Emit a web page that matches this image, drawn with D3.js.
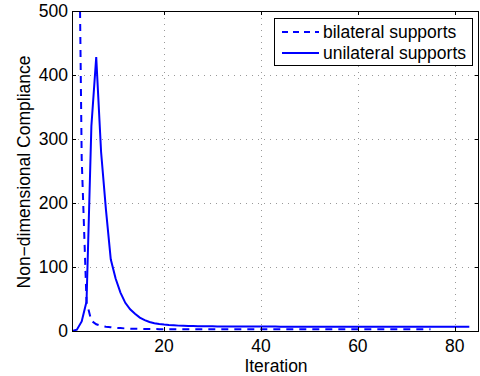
<!DOCTYPE html>
<html>
<head>
<meta charset="utf-8">
<script src="https://cdn.jsdelivr.net/npm/d3@7"></script>
<style>
  html, body { margin: 0; padding: 0; background: #fff; }
  svg { display: block; font-family: "Liberation Sans", Arial, Helvetica, sans-serif; }
</style>
</head>
<body>
<div id="chart"></div>
<script>
// Compliance per iteration
const unilateral = [
  0, 2, 15, 46, 320, 428, 280, 190, 112, 82,
  60, 44, 34, 27, 21, 17, 14, 12.2, 11, 10,
  9.3, 8.8, 8.4, 8.1, 7.9, 7.7, 7.6, 7.5, 7.4, 7.3,
  7.2, 7.2, 7.1, 7.1, 7.0, 7.0, 7.0, 6.9, 6.9, 6.9,
  6.9, 6.9, 6.9, 6.8, 6.8, 6.8, 6.8, 6.8, 6.8, 6.8,
  6.8, 6.8, 6.8, 6.8, 6.8, 6.8, 6.8, 6.8, 6.8, 6.8,
  6.8, 6.8, 6.8, 6.8, 6.8, 6.8, 6.8, 6.8, 6.8, 6.8,
  6.8, 6.8, 6.8, 6.8, 6.8, 6.8, 6.8, 6.8, 6.8, 6.8,
  6.8, 6.8, 6.8
];
const bilateral = [
  1800, 950, 270, 45, 16, 10.5, 8, 6.8, 6, 5,
  4.5, 4, 3.7, 3.5, 3.3, 3.2, 3.1, 3.0, 2.9, 2.9,
  2.8, 2.8, 2.8, 2.8, 2.8, 2.8, 2.8, 2.8, 2.8, 2.8,
  2.7, 2.7, 2.7, 2.7, 2.7, 2.7, 2.7, 2.7, 2.7, 2.7,
  2.6, 2.6, 2.6, 2.6, 2.6, 2.6, 2.6, 2.6, 2.6, 2.6,
  2.6, 2.6, 2.6, 2.6, 2.6, 2.6, 2.6, 2.6, 2.6, 2.6,
  2.6, 2.6, 2.6, 2.6, 2.6, 2.6, 2.6, 2.6, 2.6, 2.6,
  2.6, 2.6, 2.6, 2.6, 2.6
];
const series_names = ["bilateral supports", "unilateral supports"];
const x_ticks = [20, 40, 60, 80];
const y_ticks = [0, 100, 200, 300, 400, 500];

const w = 480;
const h = 376;
const m_left = 72, m_right = 479, m_top = 11, m_bottom = 331;
const font_size = 17.5;

const svg = d3.select("#chart")
  .append("svg")
  .attr("width", w)
  .attr("height", h)
  .attr("viewBox", [0, 0, w, h]);

const x_scale = d3.scaleLinear().domain([1, 85]).range([m_left, m_right]);
const y_scale = d3.scaleLinear().domain([0, 500]).range([m_bottom, m_top]);

// clip to the axes box
svg.append("clipPath")
  .attr("id", "plot-clip")
  .append("rect")
  .attr("x", m_left)
  .attr("y", m_top)
  .attr("width", m_right - m_left)
  .attr("height", m_bottom - m_top);

// dotted grid
const grid = svg.append("g")
  .attr("stroke", "#999")
  .attr("stroke-width", 1)
  .attr("stroke-dasharray", "1,5");
grid.selectAll("line.gx")
  .data(x_ticks)
  .join("line")
  .attr("class", "gx")
  .attr("x1", (d) => Math.round(x_scale(d)) + 0.5)
  .attr("x2", (d) => Math.round(x_scale(d)) + 0.5)
  .attr("y1", m_bottom)
  .attr("y2", m_top);
grid.selectAll("line.gy")
  .data(y_ticks.filter((d) => d > 0 && d < 500))
  .join("line")
  .attr("class", "gy")
  .attr("x1", m_left)
  .attr("x2", m_right)
  .attr("y1", (d) => Math.round(y_scale(d)) + 0.5)
  .attr("y2", (d) => Math.round(y_scale(d)) + 0.5);

// the two curves
const line = d3.line()
  .x((d, i) => x_scale(i + 1))
  .y((d) => y_scale(d));

const plot = svg.append("g").attr("clip-path", "url(#plot-clip)");
plot.append("path")
  .datum(bilateral)
  .attr("fill", "none")
  .attr("stroke", "#0000ff")
  .attr("stroke-width", 2)
  .attr("stroke-dasharray", "7,6")
  .attr("d", line);
plot.append("path")
  .datum(unilateral)
  .attr("fill", "none")
  .attr("stroke", "#0000ff")
  .attr("stroke-width", 2)
  .attr("d", line);

// axes box with inward ticks on all four sides
const axes = svg.append("g").attr("stroke", "#000").attr("stroke-width", 1);
axes.append("rect")
  .attr("x", m_left + 0.5)
  .attr("y", m_top + 0.5)
  .attr("width", m_right - m_left - 1)
  .attr("height", m_bottom - m_top)
  .attr("fill", "none");
const tick_len = 4;
x_ticks.forEach((t) => {
  const x = Math.round(x_scale(t)) + 0.5;
  axes.append("line").attr("x1", x).attr("x2", x).attr("y1", m_bottom).attr("y2", m_bottom - tick_len);
  axes.append("line").attr("x1", x).attr("x2", x).attr("y1", m_top).attr("y2", m_top + tick_len);
});
y_ticks.forEach((t) => {
  const y = Math.round(y_scale(t)) + 0.5;
  axes.append("line").attr("x1", m_left).attr("x2", m_left + tick_len).attr("y1", y).attr("y2", y);
  axes.append("line").attr("x1", m_right).attr("x2", m_right - tick_len).attr("y1", y).attr("y2", y);
});

// tick labels
svg.append("g")
  .selectAll("text")
  .data(x_ticks)
  .join("text")
  .attr("x", (d) => x_scale(d))
  .attr("y", 352)
  .attr("text-anchor", "middle")
  .attr("font-size", font_size)
  .text((d) => d);
svg.append("g")
  .selectAll("text")
  .data(y_ticks)
  .join("text")
  .attr("x", 68)
  .attr("y", (d) => y_scale(d) + 6)
  .attr("text-anchor", "end")
  .attr("font-size", font_size)
  .text((d) => d);

// axis titles
svg.append("text")
  .attr("x", 276)
  .attr("y", 372)
  .attr("text-anchor", "middle")
  .attr("font-size", font_size)
  .text("Iteration");
svg.append("text")
  .attr("transform", "translate(30,172) rotate(-90)")
  .attr("text-anchor", "middle")
  .attr("font-size", font_size)
  .text("Non\u2212dimensional Compliance");

// legend
const legend = svg.append("g");
legend.append("rect")
  .attr("x", 274.5)
  .attr("y", 18.5)
  .attr("width", 198)
  .attr("height", 47)
  .attr("fill", "#fff")
  .attr("stroke", "#000");
const rows = [32, 53];
series_names.forEach((name, i) => {
  legend.append("line")
    .attr("x1", 282)
    .attr("x2", 319)
    .attr("y1", rows[i])
    .attr("y2", rows[i])
    .attr("stroke", "#0000ff")
    .attr("stroke-width", 2)
    .attr("stroke-dasharray", i === 0 ? "6,5" : null);
  legend.append("text")
    .attr("x", 323)
    .attr("y", rows[i] + 6)
    .attr("font-size", font_size)
    .text(name);
});
</script>
</body>
</html>
